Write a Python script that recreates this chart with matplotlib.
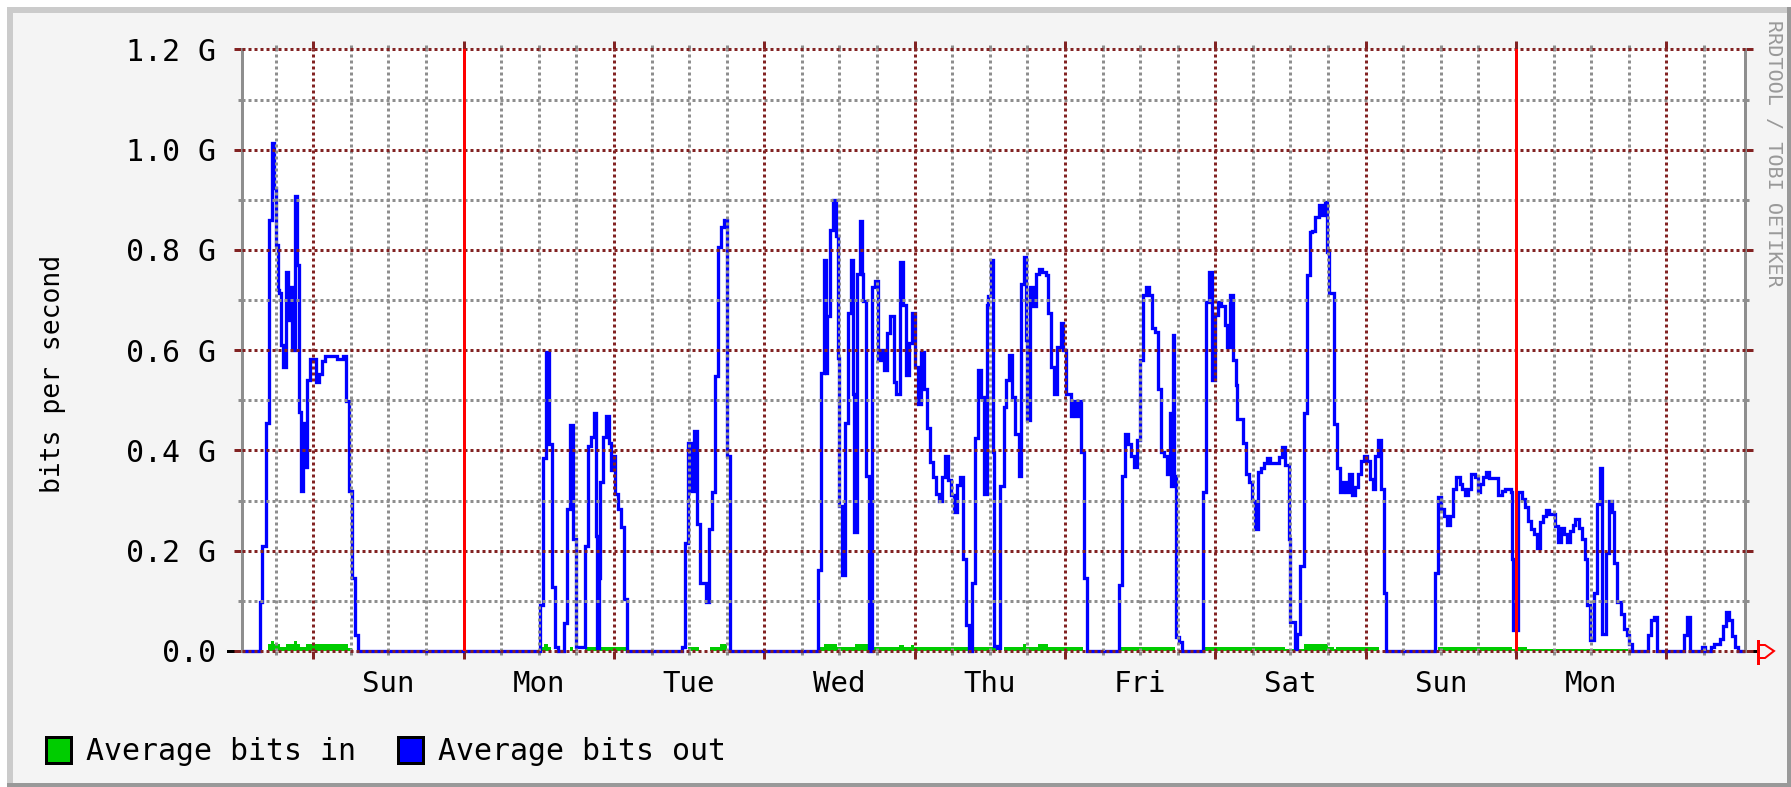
import numpy as np
import matplotlib
matplotlib.use("Agg")
import matplotlib.pyplot as plt
import matplotlib.transforms as mtransforms
from matplotlib.patches import Rectangle, Polygon

# ---- data (hours relative to the first midnight, values in Gbit/s) ---- #
T0, T1 = -11.43, 228.57

out_t = [-11.43, -8.57, -8.15, -7.62, -7.14, -6.67, -6.30, -6.03, -5.71, -5.40,
         -5.08, -4.76, -4.29, -4.02, -3.65, -3.33, -2.86, -2.55, -2.22, -1.90,
         -1.64, -1.43, -0.95, -0.48, 0.48, 0.95, 1.43, 1.90, 3.81, 4.76,
         5.24, 5.71, 6.19, 6.67, 7.14,
         36.24, 36.72, 37.20, 37.68, 38.16, 38.64, 39.1, 40.08, 40.56, 41.04,
         41.52, 42.0, 43.44, 43.92, 44.4, 44.88, 45.1, 45.36, 45.6, 45.84,
         46.32, 46.8, 47.28, 47.5, 47.76, 48.24, 48.72, 49.2, 49.68, 50.16,
         58.8, 59.28, 59.76, 60.24, 60.72, 61.2, 61.68, 62.64, 63.12, 63.6,
         64.08, 64.56, 65.04, 65.52, 66.0, 66.48,
         80.6, 81.09, 81.57, 81.85, 82.0, 82.53, 83.0, 83.49, 83.8, 83.97,
         84.45, 84.93, 85.41, 85.89, 86.2, 86.38, 86.86, 87.34, 87.6, 87.82,
         88.3, 88.78, 89.26, 89.74, 90.22, 90.7, 91.18, 91.66, 92.15, 92.63,
         93.1, 93.59, 94.07, 94.55, 95.03, 95.52, 96.0, 96.48, 96.96, 97.44,
         97.92, 98.4, 98.88, 99.36, 99.84, 100.3, 100.8, 101.3, 101.8, 102.3,
         102.7, 103.2, 103.7, 104.2, 104.7, 105.2, 105.6, 106.1, 106.6, 107.1,
         107.5, 107.76, 108.24, 108.5, 108.72, 109.2, 109.7, 110.2, 110.6, 111.1,
         111.6, 112.1, 112.6, 113.0, 113.5, 113.8, 114.0, 114.5, 114.9, 115.4,
         115.9, 116.4, 116.9, 117.3, 117.8, 118.3, 118.8, 119.3, 119.7, 120.2,
         121.0, 121.2, 121.6, 122.1, 122.6, 123.1, 123.6,
         128.6, 129.1, 129.6, 130.1, 130.5, 131.0, 131.5, 132.0, 132.5, 132.9,
         133.4, 133.9, 134.4, 134.8, 135.3, 135.8, 136.3, 136.8, 137.0, 137.2,
         137.45, 137.7, 138.2, 138.7,
         142.0, 142.5, 143.0, 143.5, 143.9, 144.4, 144.9, 145.4, 145.6, 145.9,
         146.3, 146.8, 147.3, 147.5, 148.4, 148.9, 149.4, 149.9, 150.4, 150.9,
         151.3, 151.8, 152.3, 152.8, 154.2, 154.7, 155.2, 155.7, 155.9, 156.8,
         157.1, 157.6, 158.1, 158.6, 159.1, 159.5, 160.0, 160.5, 161.0, 161.5,
         161.9, 162.2, 162.9, 163.4, 163.9, 164.4, 164.8, 165.3, 165.8, 166.3,
         166.8, 167.2, 167.7, 168.2, 168.7, 169.2, 169.5, 170.0, 170.5, 171.0,
         171.2,
         179.1, 179.6, 180.1, 180.5, 181.0, 181.5, 182.0, 182.5, 183.0, 183.4,
         183.9, 184.4, 184.9, 185.4, 185.9, 186.3, 186.8, 187.3, 187.7, 189.2,
         189.7, 190.2, 191.2, 191.4, 191.6, 192.3, 193.0, 193.4, 193.9, 194.4,
         194.9, 195.3, 195.8, 196.3, 196.8, 197.2, 198.2, 198.7, 199.2, 199.6,
         200.1, 200.6, 201.1, 201.5, 202.0, 202.5, 203.0, 203.4, 203.9, 204.4,
         204.9, 205.4, 205.8, 206.3, 206.8, 207.3, 207.7, 208.2, 208.7, 209.2,
         209.7, 210.1, 210.6, 213.1, 213.6, 214.1, 214.6, 218.9, 219.3, 219.8,
         221.7, 222.2, 223.2, 223.6, 224.6, 225.1, 225.5, 226.0, 226.5, 227.0,
         227.4, 228.57]
out_v = [0, 0.098, 0.21, 0.455, 0.86, 1.013, 0.924, 0.81, 0.72, 0.715,
         0.61, 0.567, 0.757, 0.66, 0.727, 0.60, 0.907, 0.77, 0.476, 0.32,
         0.455, 0.368, 0.54, 0.583, 0.536, 0.553, 0.578, 0.589, 0.583, 0.589,
         0.499, 0.32, 0.146, 0.031, 0,
         0.092, 0.385, 0.597, 0.413, 0.127, 0.007, 0, 0.055, 0.284, 0.45,
         0.223, 0.007, 0.21, 0.408, 0.427, 0.474, 0.23, 0.005, 0.146, 0.338,
         0.427, 0.469, 0.415, 0.361, 0.39, 0.314, 0.284, 0.247, 0.103, 0,
         0.007, 0.216, 0.415, 0.32, 0.439, 0.253, 0.135, 0.098, 0.243, 0.317,
         0.548, 0.806, 0.846, 0.86, 0.39, 0,
         0.162, 0.555, 0.78, 0.555, 0.668, 0.84, 0.9, 0.828, 0.584, 0.29,
         0.152, 0.455, 0.674, 0.78, 0.513, 0.237, 0.752, 0.858, 0.752, 0.698,
         0.35, 0, 0.727, 0.739, 0.58, 0.60, 0.56, 0.635, 0.668, 0.536,
         0.513, 0.776, 0.69, 0.55, 0.614, 0.674, 0.566, 0.493, 0.597, 0.523,
         0.445, 0.378, 0.348, 0.314, 0.3, 0.348, 0.39, 0.341, 0.312, 0.278,
         0.331, 0.348, 0.183, 0.051, 0, 0.135, 0.425, 0.56, 0.506, 0.314,
         0.69, 0.708, 0.78, 0.398, 0.01, 0.005, 0.33, 0.486, 0.541, 0.59,
         0.506, 0.433, 0.35, 0.732, 0.787, 0.62, 0.46, 0.727, 0.688, 0.752,
         0.763, 0.757, 0.75, 0.674, 0.566, 0.513, 0.607, 0.654, 0.6, 0.513,
         0.469, 0.499, 0.469, 0.499, 0.398, 0.146, 0,
         0.132, 0.35, 0.432, 0.413, 0.39, 0.368, 0.42, 0.58, 0.71, 0.727,
         0.71, 0.644, 0.637, 0.523, 0.398, 0.39, 0.354, 0.474, 0.33, 0.631,
         0.35, 0.028, 0.018, 0,
         0.317, 0.696, 0.757, 0.54, 0.671, 0.696, 0.689, 0.689, 0.65, 0.607,
         0.71, 0.58, 0.53, 0.462, 0.415, 0.354, 0.338, 0.30, 0.243, 0.358,
         0.365, 0.375, 0.385, 0.376, 0.388, 0.406, 0.371, 0.223, 0.058, 0.004,
         0.034, 0.169, 0.474, 0.75, 0.835, 0.838, 0.865, 0.889, 0.87, 0.895,
         0.796, 0.715, 0.452, 0.366, 0.317, 0.338, 0.317, 0.354, 0.312, 0.327,
         0.354, 0.379, 0.39, 0.379, 0.344, 0.324, 0.39, 0.42, 0.324, 0.115,
         0,
         0.156, 0.307, 0.284, 0.27, 0.251, 0.27, 0.324, 0.348, 0.334, 0.324,
         0.312, 0.324, 0.354, 0.348, 0.317, 0.334, 0.348, 0.358, 0.346, 0.312,
         0.319, 0.324, 0.317, 0.183, 0.041, 0.317, 0.304, 0.287, 0.26, 0.243,
         0.233, 0.206, 0.257, 0.27, 0.282, 0.274, 0.25, 0.218, 0.245, 0.233,
         0.218, 0.24, 0.251, 0.263, 0.245, 0.223, 0.183, 0.092, 0.021, 0.115,
         0.294, 0.366, 0.034, 0.196, 0.3, 0.277, 0.176, 0.098, 0.073, 0.044,
         0.031, 0.014, 0, 0.031, 0.061, 0.068, 0, 0.031, 0.068, 0,
         0.007, 0, 0.007, 0.014, 0.024, 0.049, 0.078, 0.061, 0.03, 0.007,
         0, 0]

in_t = [-11.43, -7.3, -6.8, -6.35, -5.3, -4.4, -3.1, -2.6, -2.1, -1.1,
        5.6, 6.1, 36.2, 36.9, 37.4, 38.0, 41.0, 41.5, 43.3, 49.9,
        59.8, 61.5, 63.3, 65.0, 66.0, 80.9, 81.5, 83.6, 86.5, 88.7,
        93.5, 94.3, 95.5, 95.9, 109.1, 110.2, 113.3, 113.8, 115.7, 117.3,
        122.9, 128.8, 137.6, 142.1, 155.2, 158.2, 162.0, 163.0, 163.3, 170.2,
        179.6, 187.3, 191.3, 192.4, 193.7, 210.0, 228.57]
in_v = [0, 0.014, 0.02, 0.014, 0.008, 0.014, 0.02, 0.014, 0.008, 0.014,
        0.005, 0, 0.008, 0.014, 0.008, 0, 0.007, 0, 0.008, 0,
        0.008, 0, 0.008, 0.014, 0, 0.007, 0.014, 0.007, 0.014, 0.007,
        0.011, 0.007, 0.011, 0.007, 0, 0.007, 0.014, 0.007, 0.014, 0.007,
        0, 0.007, 0, 0.007, 0.003, 0.014, 0.007, 0.003, 0.007, 0,
        0.007, 0.008, 0.003, 0.008, 0.003, 0, 0]

days = ["Sun", "Mon", "Tue", "Wed", "Thu", "Fri", "Sat", "Sun", "Mon"]
ytick_vals = [0, 0.2, 0.4, 0.6, 0.8, 1.0, 1.2]
ytick_labels = ["0.0", "0.2 G", "0.4 G", "0.6 G", "0.8 G", "1.0 G", "1.2 G"]
week_marks = [24, 192]

# ---- style -------------------------------------------------------------- #
DARKRED, GREY, RED = "#822222", "#8E8E8E", "#FF0000"
BLUE, GREEN = "#0000FF", "#00CC00"
PX = 0.72  # one pixel in points at 100 dpi
LW = 3 * PX
plt.rcParams.update({"font.family": "DejaVu Sans Mono"})

W, H = 1791, 787
fig = plt.figure(figsize=(W / 100, H / 100), dpi=100)

# background canvas in pixel coordinates
bg = fig.add_axes([0, 0, 1, 1], zorder=0)
bg.set_xlim(0, W); bg.set_ylim(H, 0); bg.axis("off")
bg.add_patch(Rectangle((7, 7), W - 7, H - 7, color="#999999", lw=0))
bg.add_patch(Rectangle((7, 7), W - 11, H - 11, color="#CBCBCB", lw=0))
bg.add_patch(Rectangle((13, 13), W - 17, H - 17, color="#F4F4F4", lw=0))

L, R, TOP, BOT = 241.7, 1745, 49.5, 651
ax = fig.add_axes([L / W, 1 - BOT / H, (R - L) / W, (BOT - TOP) / H], zorder=1)
ax.set_facecolor("white")
ax.set_xlim(T0, T1); ax.set_ylim(0, 1.2)

# data
ax.fill_between(in_t, in_v, step="post", color=GREEN, lw=0, zorder=1.5)
ax.plot(out_t, out_v, drawstyle="steps-post", color=BLUE, lw=3.3 * PX,
        solid_joinstyle="miter", solid_capstyle="butt", zorder=2, clip_on=False)

# grid on top of the data
dot = (0, (1, 1))
for y in np.arange(0.1, 1.2, 0.2):
    ax.axhline(y, color=GREY, lw=LW, ls=dot, zorder=3)
for y in ytick_vals:
    ax.axhline(y, color=DARKRED, lw=LW, ls=dot, zorder=3.1, clip_on=False)
midnights = np.arange(0, 217, 24)
six_h = [h for h in np.arange(-6, 228, 6) if h % 24]
for x in six_h:
    ax.axvline(x, color=GREY, lw=LW, ls=dot, zorder=3)
for x in midnights:
    ax.axvline(x, color=DARKRED, lw=LW, ls=dot, zorder=3.1)
for x in week_marks:
    ax.axvline(x, color=RED, lw=LW, zorder=4)

# ticks
ax.set_yticks(ytick_vals)
ax.set_yticklabels(ytick_labels)
ax.set_yticks(np.arange(0.1, 1.2, 0.2), minor=True)
ax.set_xticks(midnights)
ax.set_xticks(six_h, minor=True)
ax.tick_params(which="major", direction="out", length=8 * PX, width=LW,
               color=DARKRED, left=True, right=True, top=True, bottom=True,
               labelbottom=False, labelsize=21.5, pad=13)
ax.tick_params(which="minor", direction="out", length=4 * PX, width=LW,
               color=GREY, left=True, right=True, top=True, bottom=True)
for s in ("top", "bottom"):
    ax.spines[s].set_visible(False)
for s in ("left", "right"):
    ax.spines[s].set_color(GREY); ax.spines[s].set_linewidth(LW)

trans = mtransforms.blended_transform_factory(ax.transData, ax.transAxes)
for i, d in enumerate(days):
    ax.text(12 + 24 * i, -0.0549, d, transform=trans, ha="center", va="center",
            fontsize=21)

# axis title, watermark, legend, arrow
bg.text(53, 374, "bits per second", rotation=90, ha="center", va="center",
        fontsize=19)
bg.text(1774, 20, "RRDTOOL / TOBI OETIKER", rotation=-90, ha="center", va="top",
        fontsize=14.5, color="#999999")
for x0, col, lab in [(45.7, GREEN, "Average bits in"), (397.5, BLUE, "Average bits out")]:
    bg.add_patch(Rectangle((x0, 737), 25, 26, facecolor=col, edgecolor="black", lw=LW))
    bg.text(x0 + 40, 751, lab, ha="left", va="center", fontsize=21.5)

bg.plot([228, 235], [BOT, BOT], color="black", lw=LW)
bg.plot([1752, 1758], [BOT, BOT], color="black", lw=LW)
bg.plot([1758, 1758], [641, 663], color=RED, lw=LW)
bg.add_patch(Polygon([(1758, 645), (1765, 645), (1774, 651), (1765, 658), (1758, 658)],
                     closed=True, fill=False, edgecolor=RED, lw=2 * PX))

fig.savefig("out.png", dpi=100)
